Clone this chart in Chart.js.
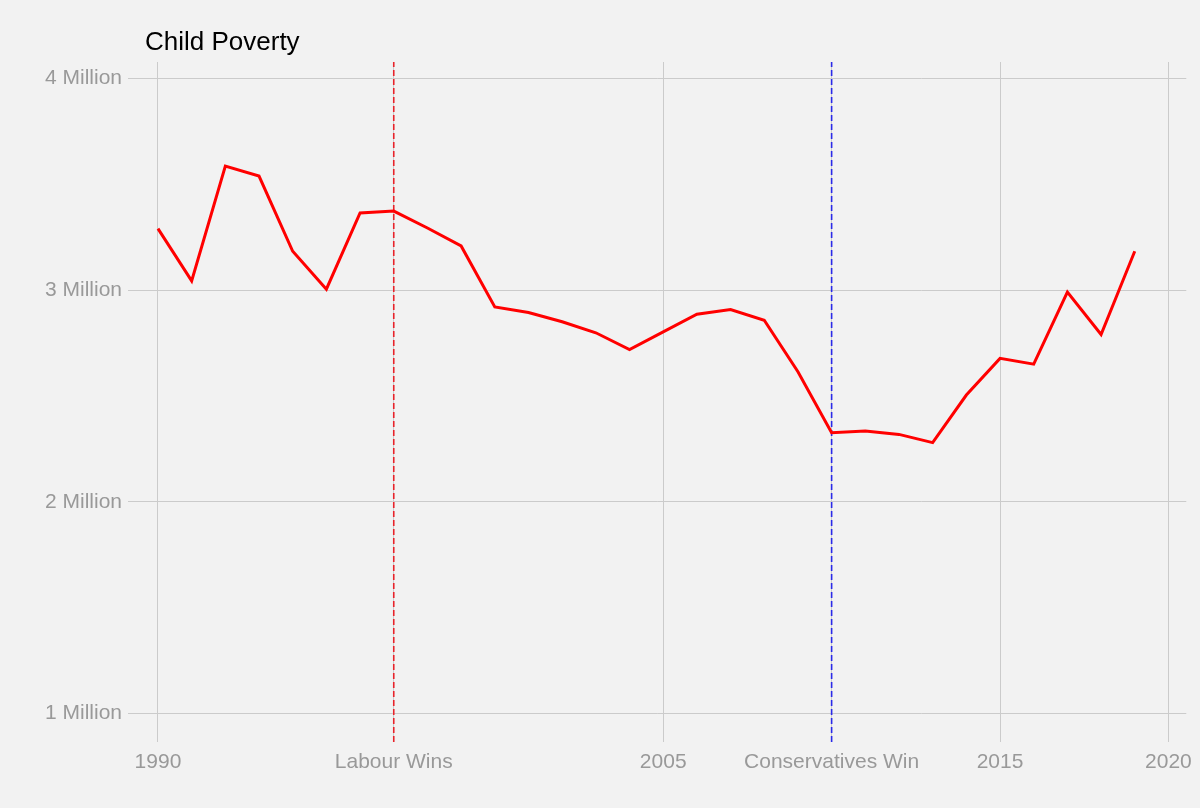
<!DOCTYPE html>
<html>
<head>
<meta charset="utf-8">
<script src="https://cdn.jsdelivr.net/npm/chart.js@4.4.1/dist/chart.umd.min.js"></script>
<style>
  html, body { margin: 0; padding: 0; background: #f2f2f2; }
  canvas { display: block; }
</style>
</head>
<body>
<canvas id="poverty-chart" width="1200" height="808"></canvas>
<script>
const chartTitle = 'Child Poverty';

const years = [1990, 1991, 1992, 1993, 1994, 1995, 1996, 1997, 1998, 1999,
  2000, 2001, 2002, 2003, 2004, 2005, 2006, 2007, 2008, 2009,
  2010, 2011, 2012, 2013, 2014, 2015, 2016, 2017, 2018, 2019];

// children in poverty, millions
const childPoverty = [3.291, 3.044, 3.586, 3.539, 3.184, 3.005, 3.365, 3.374, 3.294, 3.209,
  2.921, 2.895, 2.851, 2.799, 2.720, 2.803, 2.887, 2.909, 2.858, 2.615,
  2.327, 2.335, 2.319, 2.280, 2.505, 2.678, 2.651, 2.991, 2.791, 3.184];

const xTickValues = [1990, 1997, 2005, 2010, 2015, 2020];
const xTickLabels = ['1990', 'Labour Wins', '2005', 'Conservatives Win', '2015', '2020'];

const yTickValues = [1, 2, 3, 4];
const yTickLabels = ['1 Million', '2 Million', '3 Million', '4 Million'];

const electionYears = [1997, 2010];
const electionColors = ['#e8232a', '#2a2ae8'];

const Y_MIN = 0.866, Y_MAX = 4.078;
const X_MIN = 1989.11, X_MAX = 2020.53;

const fontFamily = '"Liberation Sans", Arial, Helvetica, sans-serif';

const titlePlugin = {
  id: 'leftTitle',
  afterDraw(chart) {
    const ctx = chart.ctx;
    ctx.save();
    ctx.font = '26px ' + fontFamily;
    ctx.fillStyle = '#000000';
    ctx.textBaseline = 'alphabetic';
    ctx.fillText(chartTitle, chart.chartArea.left + 17, 50);
    ctx.restore();
  }
};

function buildDatasets() {
  const sets = [{
    label: chartTitle,
    data: years.map((yr, i) => ({ x: yr, y: childPoverty[i] })),
    borderColor: '#ff0000',
    borderWidth: 3,
    pointRadius: 0,
    tension: 0,
    fill: false,
    order: 0
  }];
  electionYears.forEach((yr, i) => {
    sets.push({
      label: 'election ' + yr,
      data: [{ x: yr, y: Y_MIN }, { x: yr, y: Y_MAX }],
      borderColor: electionColors[i],
      borderWidth: 1.6,
      borderDash: [6, 3],
      pointRadius: 0,
      fill: false,
      order: 1
    });
  });
  return sets;
}

const ctx = document.getElementById('poverty-chart').getContext('2d');
new Chart(ctx, {
  type: 'line',
  data: { datasets: buildDatasets() },
  plugins: [titlePlugin],
  options: {
    responsive: false,
    animation: false,
    devicePixelRatio: 1,
    layout: { padding: { top: 62, right: 12, bottom: 0, left: 0 } },
    plugins: {
      legend: { display: false },
      tooltip: { enabled: false },
      title: { display: false }
    },
    scales: {
      x: {
        type: 'linear',
        min: X_MIN,
        max: X_MAX,
        afterBuildTicks: scale => { scale.ticks = xTickValues.map(v => ({ value: v })); },
        afterFit: scale => { scale.height = 66; },
        ticks: {
          autoSkip: false,
          maxRotation: 0,
          padding: 8,
          color: '#999999',
          font: { family: fontFamily, size: 21 },
          callback: value => xTickLabels[xTickValues.indexOf(value)]
        },
        grid: { color: '#cbcbcb', lineWidth: 1, drawTicks: false },
        border: { display: false }
      },
      y: {
        type: 'linear',
        min: Y_MIN,
        max: Y_MAX,
        afterBuildTicks: scale => { scale.ticks = yTickValues.map(v => ({ value: v })); },
        afterFit: scale => { scale.width = 128; },
        ticks: {
          padding: 6,
          color: '#999999',
          font: { family: fontFamily, size: 21 },
          callback: value => yTickLabels[yTickValues.indexOf(value)]
        },
        grid: { color: '#cbcbcb', lineWidth: 1, drawTicks: false },
        border: { display: false }
      }
    }
  }
});
</script>
</body>
</html>
